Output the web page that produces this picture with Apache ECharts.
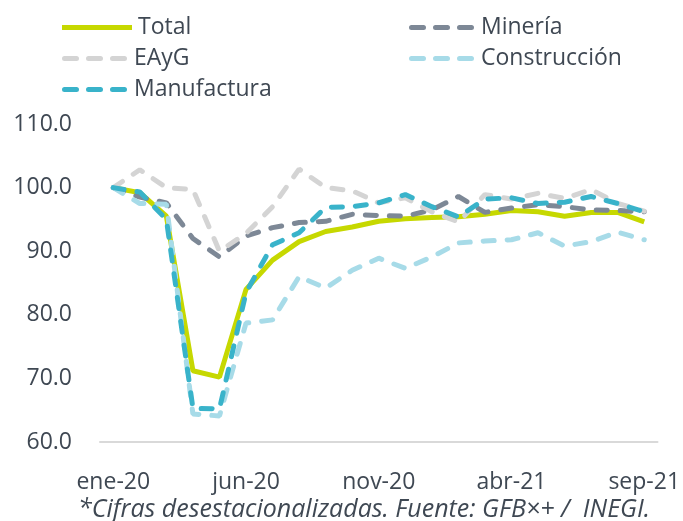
<!DOCTYPE html>
<html>
<head>
<meta charset="utf-8">
<script src="https://cdn.jsdelivr.net/npm/echarts@6/dist/echarts.min.js"></script>
<style>
  html, body { margin: 0; padding: 0; background: #fff; }
  #chart { width: 683px; height: 521px; }
</style>
</head>
<body>
<div id="chart"></div>
<script>
// meses
const meses = ['ene-20', 'feb-20', 'mar-20', 'abr-20', 'may-20', 'jun-20', 'jul-20', 'ago-20', 'sep-20', 'oct-20', 'nov-20', 'dic-20',
  'ene-21', 'feb-21', 'mar-21', 'abr-21', 'may-21', 'jun-21', 'jul-21', 'ago-21', 'sep-21']

// series (indice, ene-20 = 100)
const total = [100, 99.2, 95.5, 71.2, 70.2, 84.0, 88.6, 91.5, 93.1, 93.8, 94.7, 95.1, 95.3, 95.4, 95.8, 96.4, 96.2, 95.5, 96.1, 96.1, 94.6]
const mineria = [100, 98.5, 97.6, 92.0, 89.1, 92.4, 93.7, 94.5, 94.7, 95.8, 95.6, 95.5, 96.5, 98.6, 96.1, 96.8, 97.3, 97.0, 96.5, 96.4, 96.2]
const eayg = [100, 102.8, 100.0, 99.7, 90.0, 92.8, 97.0, 102.9, 100.0, 99.5, 97.6, 98.4, 96.2, 94.6, 98.9, 98.2, 99.1, 98.3, 99.7, 97.5, 96.3]
const construccion = [100, 97.5, 97.4, 64.4, 64.1, 78.7, 79.2, 86.0, 84.2, 87.0, 88.9, 87.3, 89.1, 91.3, 91.6, 91.8, 92.9, 90.8, 91.5, 93.0, 91.8]
const manufactura = [100, 99.3, 95.0, 65.3, 65.2, 83.5, 91.0, 92.9, 96.9, 97.0, 97.6, 98.9, 97.0, 95.4, 98.2, 98.4, 97.5, 97.7, 98.6, 97.5, 96.2]

const textColor = '#3f4853'
const font = 'Open Sans'

const myChart = echarts.init(document.getElementById('chart'))

const dashed = (name, data, color) => ({
  name,
  type: 'line',
  data,
  symbol: 'none',
  lineStyle: { color, width: 5, type: [11, 13], cap: 'round' },
  itemStyle: { color }
})

// iconos de la leyenda: linea continua y tres guiones redondeados
const seg = (x) => `M${x + 2.5},0h12a2.5,2.5 0 0 1 0,5h-12a2.5,2.5 0 0 1 0,-5z`
const iconSolid = 'path://M0,0h72v5h-72z'
const iconDash = 'path://' + seg(0) + seg(24) + seg(48)

const legendBase = {
  orient: 'vertical',
  itemWidth: 67,
  itemHeight: 5,
  itemGap: 0,
  textStyle: { color: textColor, fontFamily: font, fontSize: 23, lineHeight: 31, padding: [0, 0, 0, 1] }
}

myChart.setOption({
  animation: false,
  grid: { left: 100, right: 23, top: 124, bottom: 79 },
  legend: [
    { ...legendBase, left: 57, top: 7, icon: iconSolid, itemWidth: 70, data: ['Total'] },
    { ...legendBase, left: 57, top: 38, icon: iconDash, data: ['EAyG', 'Manufactura'] },
    { ...legendBase, left: 404, top: 7, icon: iconDash, data: ['Minería', 'Construcción'] }
  ],
  xAxis: {
    type: 'category',
    data: meses,
    boundaryGap: true,
    axisTick: { show: false },
    axisLine: { lineStyle: { color: '#d9d9d9', width: 2 } },
    axisLabel: {
      interval: 4,
      color: textColor,
      fontFamily: font,
      fontSize: 23,
      margin: 29
    }
  },
  yAxis: {
    type: 'value',
    min: 60,
    max: 110,
    interval: 10,
    splitLine: { show: false },
    axisLine: { show: false },
    axisTick: { show: false },
    axisLabel: {
      color: textColor,
      fontFamily: font,
      fontSize: 23,
      margin: 28,
      formatter: (v) => v.toFixed(1)
    }
  },
  graphic: [{
    type: 'text',
    left: 78,
    top: 497,
    style: {
      text: '*Cifras desestacionalizadas. Fuente: GFB×+ /  INEGI.',
      fill: textColor,
      font: 'italic 25px "Open Sans"'
    }
  }],
  series: [
    {
      name: 'Total',
      type: 'line',
      data: total,
      symbol: 'none',
      lineStyle: { color: '#c6d800', width: 5 },
      itemStyle: { color: '#c6d800' }
    },
    dashed('Minería', mineria, '#7d8896'),
    dashed('EAyG', eayg, '#d4d4d4'),
    dashed('Construcción', construccion, '#a7dbe8'),
    dashed('Manufactura', manufactura, '#39b3ca')
  ]
})
</script>
</body>
</html>
